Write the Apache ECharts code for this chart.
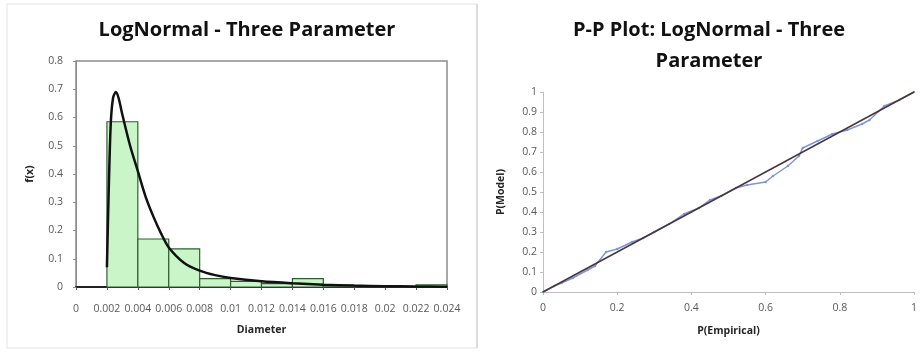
<!DOCTYPE html>
<html>
<head>
<meta charset="utf-8">
<script src="https://cdn.jsdelivr.net/npm/echarts@6/dist/echarts.min.js"></script>
<style>
  html, body { margin: 0; padding: 0; background: #fff; }
  #main { width: 920px; height: 352px; }
</style>
</head>
<body>
<div id="main"></div>
<script>
// histogram bins (left edge, right edge) and density heights
const binStart = [0.002, 0.004, 0.006, 0.008, 0.010, 0.012, 0.014, 0.016, 0.018, 0.020, 0.022]
const binEnd = [0.004, 0.006, 0.008, 0.010, 0.012, 0.014, 0.016, 0.018, 0.020, 0.022, 0.024]
const binHeight = [0.585, 0.17, 0.135, 0.03, 0.02, 0.012, 0.03, 0.005, 0.001, 0.001, 0.008]

// fitted pdf curve
const curveX = [0.002, 0.00212, 0.00225, 0.0024, 0.00258, 0.00275, 0.003, 0.0035, 0.004, 0.0045,
  0.005, 0.0055, 0.006, 0.007, 0.008, 0.009, 0.01, 0.012, 0.014, 0.016, 0.018, 0.02, 0.022, 0.024]
const curveY = [0.07, 0.35, 0.58, 0.67, 0.69, 0.67, 0.61, 0.5, 0.41, 0.32,
  0.25, 0.19, 0.14, 0.085, 0.058, 0.042, 0.032, 0.02, 0.013, 0.008, 0.005, 0.003, 0.002, 0.001]

// P-P plot points
const ppEmpirical = [0, 0.03, 0.05, 0.08, 0.12, 0.14, 0.17, 0.2, 0.24, 0.27, 0.3, 0.34, 0.38, 0.42,
  0.45, 0.48, 0.52, 0.55, 0.6, 0.62, 0.66, 0.69, 0.7, 0.74, 0.78, 0.82, 0.86, 0.88, 0.92, 0.96, 1]
const ppModel = [0, 0.03, 0.045, 0.07, 0.11, 0.13, 0.2, 0.215, 0.25, 0.27, 0.3, 0.34, 0.39, 0.42,
  0.46, 0.48, 0.52, 0.535, 0.55, 0.58, 0.63, 0.68, 0.72, 0.755, 0.79, 0.81, 0.84, 0.86, 0.93, 0.96, 1]
const refLine = [[0, 0], [1, 1]]

const font = 'Open Sans'
const labelStyle = { color: '#595959', fontSize: 10.5, fontFamily: font }
const nameStyle = { color: '#262626', fontSize: 10.5, fontWeight: 'bold', fontFamily: font }

const chart = echarts.init(document.getElementById('main'))
const option = {
  animation: false,
  backgroundColor: '#fff',
  title: [
    {
      text: 'LogNormal - Three Parameter',
      left: 242,
      top: 15,
      textAlign: 'center',
      textStyle: { fontSize: 20, fontWeight: 'bold', color: '#111', fontFamily: font }
    },
    {
      text: 'P-P Plot: LogNormal - Three\nParameter',
      left: 704,
      top: 10,
      textAlign: 'center',
      textStyle: { fontSize: 20, fontWeight: 'bold', color: '#111', fontFamily: font, lineHeight: 31 }
    }
  ],
  graphic: [
    { type: 'rect', shape: { x: 7, y: 4, width: 470, height: 344 }, style: { fill: 'none', stroke: '#e3e3e3', lineWidth: 1 } },
    { type: 'line', shape: { x1: 477, y1: 4, x2: 477, y2: 348 }, style: { stroke: '#d4d4d4', lineWidth: 1.5 } }
  ],
  grid: [
    { left: 76, top: 61, width: 371, height: 226, show: true, borderColor: '#8c8c8c', borderWidth: 1.5 },
    { left: 543, top: 92, width: 371, height: 200 }
  ],
  xAxis: [
    {
      gridIndex: 0,
      type: 'value',
      min: 0,
      max: 0.024,
      interval: 0.002,
      name: 'Diameter',
      nameLocation: 'middle',
      nameGap: 38,
      nameTextStyle: nameStyle,
      axisLine: { lineStyle: { color: '#222', width: 2 } },
      axisTick: { show: true, length: 3, lineStyle: { color: '#555' } },
      axisLabel: Object.assign({ margin: 17, formatter: v => String(+v.toFixed(3)) }, labelStyle),
      splitLine: { show: false }
    },
    {
      gridIndex: 1,
      type: 'value',
      min: 0,
      max: 1,
      interval: 0.2,
      name: 'P(Empirical)',
      nameLocation: 'middle',
      nameGap: 34,
      nameTextStyle: nameStyle,
      axisLine: { lineStyle: { color: '#bfbfbf', width: 1 } },
      axisTick: { show: true, length: 3, lineStyle: { color: '#bfbfbf' } },
      axisLabel: Object.assign({ margin: 11, formatter: v => String(+v.toFixed(1)) }, labelStyle),
      splitLine: { show: false }
    }
  ],
  yAxis: [
    {
      gridIndex: 0,
      type: 'value',
      min: 0,
      max: 0.8,
      interval: 0.1,
      name: 'f(x)',
      nameLocation: 'middle',
      nameGap: 40,
      nameTextStyle: nameStyle,
      axisLine: { show: true, lineStyle: { color: '#8c8c8c', width: 1 } },
      axisTick: { show: true, length: 3, lineStyle: { color: '#8c8c8c' } },
      axisLabel: Object.assign({ margin: 13, formatter: v => String(+v.toFixed(1)) }, labelStyle),
      splitLine: { show: false }
    },
    {
      gridIndex: 1,
      type: 'value',
      min: 0,
      max: 1,
      interval: 0.1,
      name: 'P(Model)',
      nameLocation: 'middle',
      nameGap: 36,
      nameTextStyle: nameStyle,
      axisLine: { show: true, lineStyle: { color: '#bfbfbf', width: 1 } },
      axisTick: { show: true, length: 3, lineStyle: { color: '#bfbfbf' } },
      axisLabel: Object.assign({ margin: 6, formatter: v => String(+v.toFixed(1)) }, labelStyle),
      splitLine: { show: false }
    }
  ],
  series: [
    {
      type: 'custom',
      xAxisIndex: 0,
      yAxisIndex: 0,
      data: binStart.map((s, i) => [s, binEnd[i], binHeight[i]]),
      renderItem: function (params, api) {
        const p0 = api.coord([api.value(0), 0])
        const p1 = api.coord([api.value(1), api.value(2)])
        return {
          type: 'rect',
          shape: { x: p0[0], y: p1[1], width: p1[0] - p0[0], height: p0[1] - p1[1] },
          style: { fill: '#c9f5c9', stroke: '#2f5f2f', lineWidth: 1.2 }
        }
      },
      z: 2
    },
    {
      type: 'line',
      xAxisIndex: 0,
      yAxisIndex: 0,
      data: curveX.map((x, i) => [x, curveY[i]]),
      smooth: 0.3,
      showSymbol: false,
      lineStyle: { color: '#111', width: 2.5 },
      z: 3
    },
    {
      type: 'line',
      xAxisIndex: 1,
      yAxisIndex: 1,
      data: refLine,
      showSymbol: false,
      lineStyle: { color: '#4a3440', width: 1.5 },
      z: 3
    },
    {
      type: 'line',
      xAxisIndex: 1,
      yAxisIndex: 1,
      data: ppEmpirical.map((x, i) => [x, ppModel[i]]),
      symbol: 'circle',
      symbolSize: 2.5,
      itemStyle: { color: '#7b98cf' },
      lineStyle: { color: '#7b98cf', width: 1.5 },
      z: 2
    }
  ]
}
chart && chart.setOption(option)
</script>
</body>
</html>
